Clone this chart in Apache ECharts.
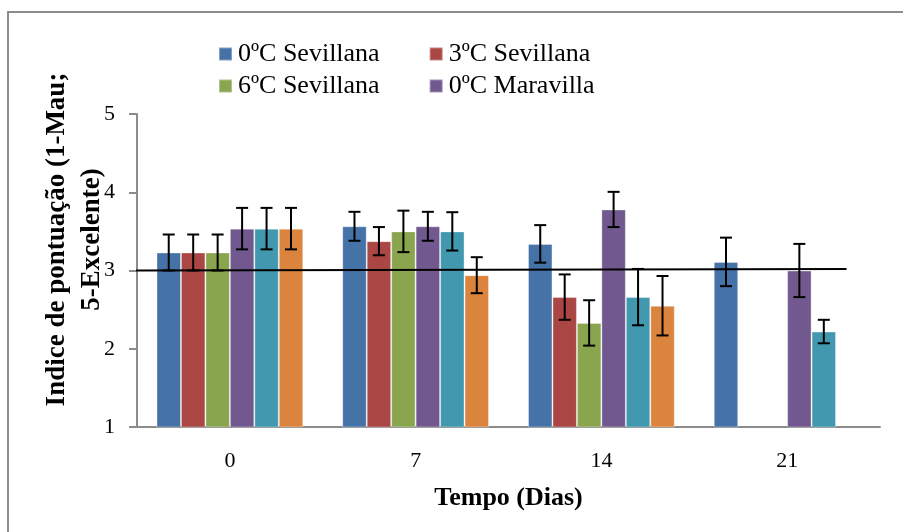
<!DOCTYPE html>
<html>
<head>
<meta charset="utf-8">
<script src="https://cdn.jsdelivr.net/npm/echarts@6/dist/echarts.min.js"></script>
<style>
html,body{margin:0;padding:0;background:#fff;}
#chart{width:903px;height:532px;}
</style>
</head>
<body>
<div id="chart"></div>
<script>
// ---- Data ----
var days = ['0', '7', '14', '21'];
var seriesNames = ['0ºC Sevillana', '3ºC Sevillana', '6ºC Sevillana', '0ºC Maravilla', '3ºC Maravilla', '6ºC Maravilla'];
var sev0 = [3.23, 3.565, 3.34, 3.11];
var sev3 = [3.23, 3.375, 2.66, null];
var sev6 = [3.23, 3.50, 2.33, null];
var mar0 = [3.535, 3.565, 3.78, 3.00];
var mar3 = [3.535, 3.50, 2.66, 2.22];
var mar6 = [3.535, 2.94, 2.55, null];
var errSev0 = [0.23, 0.185, 0.24, 0.31];
var errSev3 = [0.23, 0.18, 0.29, null];
var errSev6 = [0.23, 0.265, 0.29, null];
var errMar0 = [0.265, 0.185, 0.225, 0.34];
var errMar3 = [0.265, 0.245, 0.36, 0.15];
var errMar6 = [0.265, 0.23, 0.38, null];
var yTicks = [1, 2, 3, 4, 5];
var refLineX = [-0.02, 3.82];   // in category units
var refLineY = [3.0, 3.02];

var values = [sev0, sev3, sev6, mar0, mar3, mar6];
var errors = [errSev0, errSev3, errSev6, errMar0, errMar3, errMar6];
var colors = ['#4572A7', '#AA4643', '#89A54E', '#71588F', '#4198AF', '#DB843D'];
var FONT = '"Liberation Serif", "Times New Roman", serif';
var CAT_GAP = 0.21;

var errData = [];
values.forEach(function (vals, s) {
  vals.forEach(function (v, c) {
    var e = errors[s][c];
    if (v != null && e != null) errData.push([c, s, v - e, v + e]);
  });
});

var barSeries = values.map(function (vals, s) {
  return {
    name: seriesNames[s],
    type: 'bar',
    data: vals,
    barGap: '0%',
    barCategoryGap: (CAT_GAP * 100) + '%',
    itemStyle: { color: colors[s], borderColor: 'rgba(255,255,255,0.35)', borderWidth: 1 },
    z: 2
  };
});

var legendCommon = {
  itemWidth: 13, itemHeight: 13, itemGap: 49,
  icon: 'rect',
  textStyle: { fontFamily: FONT, fontSize: 26, color: '#000', padding: [0, 0, 0, 1] }
};

var chart = echarts.init(document.getElementById('chart'), null, { renderer: 'canvas' });
chart.setOption({
  animation: false,
  textStyle: { fontFamily: FONT },
  graphic: [{
    type: 'rect', left: 7, top: 11, z: -10,
    shape: { width: 1000, height: 1000 },
    style: { fill: '#fff', stroke: '#8c8c8c', lineWidth: 2 }
  }],
  legend: [
    Object.assign({ data: seriesNames.slice(0, 2), left: 213, top: 36 }, legendCommon),
    Object.assign({ data: seriesNames.slice(2, 4), left: 213, top: 68 }, legendCommon)
  ],
  grid: { left: 137, right: 23, top: 114, bottom: 105, containLabel: false },
  xAxis: [{
    type: 'category',
    data: days,
    axisLine: { lineStyle: { color: '#8c8c8c', width: 2 } },
    axisTick: { show: false },
    axisLabel: { color: '#000', fontSize: 22, fontFamily: FONT, margin: 23 },
    name: 'Tempo (Dias)',
    nameLocation: 'middle',
    nameGap: 58,
    nameMoveOverlap: false,
    nameTextStyle: { color: '#000', fontSize: 26, fontWeight: 'bold', fontFamily: FONT }
  }, {
    type: 'value', min: 0, max: days.length, show: false
  }],
  yAxis: {
    type: 'value',
    min: yTicks[0], max: yTicks[yTicks.length - 1], interval: 1,
    axisLine: { show: true, lineStyle: { color: '#8c8c8c', width: 2 } },
    axisTick: { show: true, length: 8, lineStyle: { color: '#8c8c8c', width: 2 } },
    splitLine: { show: false },
    axisLabel: { color: '#000', fontSize: 22, fontFamily: FONT, margin: 22 },
    name: 'Indice de pontuação (1-Mau;\n5-Excelente)',
    nameLocation: 'middle',
    nameGap: 27,
    nameMoveOverlap: false,
    nameTextStyle: { color: '#000', fontSize: 27, fontWeight: 'bold', fontFamily: FONT, lineHeight: 35, padding: [0, 0, 0, 62] }
  },
  series: barSeries.concat([{
    type: 'custom',
    name: 'errors',
    data: errData,
    encode: { x: 0, y: [2, 3] },
    z: 5,
    renderItem: function (params, api) {
      var c = api.value(0), s = api.value(1);
      var catW = api.size([1, 0])[0];
      var barW = catW * (1 - CAT_GAP) / 6;
      var base = api.coord([c, 0])[0];
      var cx = base - catW * (1 - CAT_GAP) / 2 + (s + 0.5) * barW;
      var yl = api.coord([c, api.value(2)])[1];
      var yh = api.coord([c, api.value(3)])[1];
      var hw = 6;
      var st = { stroke: '#000', lineWidth: 2 };
      return {
        type: 'group',
        children: [
          { type: 'line', shape: { x1: cx, y1: yl, x2: cx, y2: yh }, style: st },
          { type: 'line', shape: { x1: cx - hw, y1: yl, x2: cx + hw, y2: yl }, style: st },
          { type: 'line', shape: { x1: cx - hw, y1: yh, x2: cx + hw, y2: yh }, style: st }
        ]
      };
    }
  }, {
    type: 'line',
    name: 'ref',
    xAxisIndex: 1,
    data: [[refLineX[0], refLineY[0]], [refLineX[1], refLineY[1]]],
    symbol: 'none',
    clip: false,
    lineStyle: { color: '#000', width: 2 },
    z: 6
  }])
});
</script>
</body>
</html>
